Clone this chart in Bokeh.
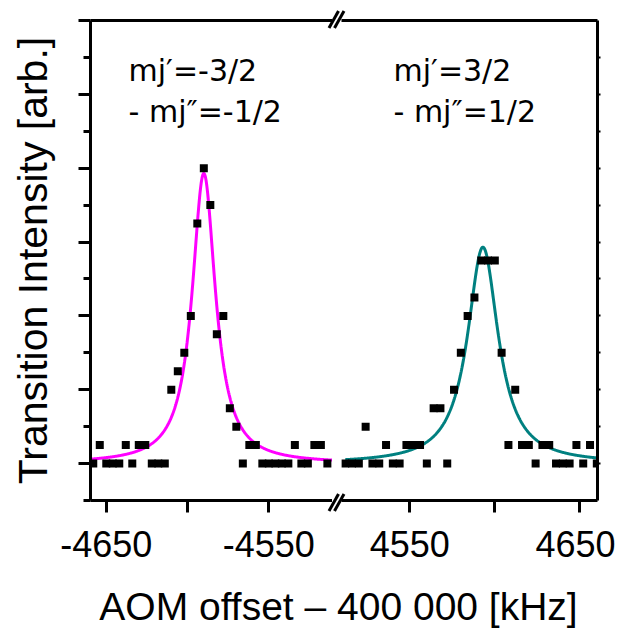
from bokeh.plotting import figure
from bokeh.layouts import row, column
from bokeh.models import LinearAxis, FixedTicker, Label, Range1d, CustomJSTickFormatter, Div
from bokeh.embed import file_html
from bokeh.resources import INLINE
import numpy as np

# ---------------- data ----------------
left_x = [-4658, -4654, -4650, -4646, -4642, -4638, -4634, -4630, -4626, -4622,
          -4618, -4614, -4610, -4606, -4602, -4598, -4594, -4590, -4586, -4582,
          -4578, -4574, -4570, -4566, -4562, -4558, -4554, -4550, -4546, -4542,
          -4538, -4534, -4530, -4526, -4522, -4518, -4514]
left_y = [0, 0.25, 0, 0, 0, 0.25, 0, 0.25, 0.25, 0,
          0, 0, 1.0, 1.25, 1.5, 2.0, 3.25, 4.0, 3.5, 1.75,
          2.0, 0.75, 0.5, 0, 0.25, 0.25, 0, 0, 0, 0,
          0, 0.25, 0, 0, 0.25, 0.25, 0]

right_x = [4512, 4516, 4520, 4524, 4528, 4532, 4536, 4540, 4544, 4548,
           4552, 4556, 4560, 4564, 4568, 4572, 4576, 4580, 4584, 4588,
           4592, 4596, 4600, 4604, 4608, 4612, 4616, 4620, 4624, 4628,
           4632, 4636, 4640, 4644, 4648, 4652, 4656, 4660]
right_y = [0, 0, 0, 0.5, 0, 0, 0.25, 0, 0, 0.25,
           0.25, 0.25, 0, 0.75, 0.75, 0, 1.0, 1.5, 2.0, 2.25,
           2.75, 2.75, 2.75, 1.5, 0.25, 1.0, 0.25, 0.25, 0, 0.25,
           0.25, 0, 0, 0, 0.25, 0, 0.25, 0]

# Lorentzian fit parameters
left_center, left_amp, left_hwhm, left_offset = -4590.0, 3.93, 8.7, 0.0
right_center, right_amp, right_hwhm, right_offset = 4593.0, 2.93, 11.0, 0.0
left_fit_span = (-4660, -4511)
right_fit_span = (4512, 4660)

left_ticks = [-4650, -4600, -4550]
left_tick_labels = ["-4650", "", "-4550"]
right_ticks = [4550, 4600, 4650]
right_tick_labels = ["4550", "", "4650"]
y_major = [0, 1, 2, 3, 4, 5, 6]
y_minor = [-0.5, 0.5, 1.5, 2.5, 3.5, 4.5, 5.5]
y_right_ticks = [0, 0.5, 1, 1.5, 2, 2.5, 3, 3.5, 4, 4.5, 5, 5.5]

left_xrange = (-4659.7, -4510.85)
right_xrange = (4509.8, 4660.4)
y_range = (-0.5, 6)

x_label = "AOM offset \u2013 400 000 [kHz]"
y_label = "Transition Intensity [arb.]"
left_note = ["mj\u2032=-3/2", "- mj\u2033=-1/2"]
right_note = ["mj\u2032=3/2", "- mj\u2033=1/2"]
left_note_x = -4636.3
right_note_x = 4540.4
note_y = [5.323, 4.768]

# ---------------- layout constants ----------------
TOP = 20
FRAME_H = 480
BOTTOM = 78
FIG_H = TOP + FRAME_H + BOTTOM
LEFT_BORDER = 90
LEFT_FW = 242
GAP_W = 9
RIGHT_FW = 256
RIGHT_BORDER = 18
LW = 3
FONT = "Liberation Sans"


def lorentz(xs, c, a, g, o):
    return o + a / (1.0 + ((xs - c) / g) ** 2)


lx = np.linspace(left_fit_span[0], left_fit_span[1], 600)
ly = lorentz(lx, left_center, left_amp, left_hwhm, left_offset)
rx = np.linspace(right_fit_span[0], right_fit_span[1], 600)
ry = lorentz(rx, right_center, right_amp, right_hwhm, right_offset)


def style_bottom(p, ticks, labels):
    ax = p.xaxis[0]
    ax.ticker = FixedTicker(ticks=ticks)
    ax.major_label_overrides = {t: l for t, l in zip(ticks, labels)}
    ax.minor_tick_line_color = None
    ax.major_tick_out = 12
    ax.major_tick_in = 0
    ax.major_tick_line_width = LW
    ax.axis_line_width = LW
    ax.major_label_text_font = FONT
    ax.major_label_text_font_size = "36px"
    ax.major_label_text_color = "black"
    ax.major_label_standoff = 18


def add_top(p):
    top = LinearAxis(ticker=FixedTicker(ticks=[]), axis_line_width=LW,
                     major_tick_out=0, major_tick_in=0, minor_tick_out=0, minor_tick_in=0,
                     major_label_text_font_size="0px", major_label_standoff=0)
    p.add_layout(top, "above")


def clean(p):
    p.grid.visible = False
    p.outline_line_color = None


# ---------------- left panel ----------------
p1 = figure(width=LEFT_BORDER + LEFT_FW, height=FIG_H,
            x_range=Range1d(*left_xrange), y_range=Range1d(*y_range),
            output_backend="svg", toolbar_location=None,
            min_border_left=LEFT_BORDER, min_border_right=0,
            min_border_top=TOP, min_border_bottom=BOTTOM)
clean(p1)
style_bottom(p1, left_ticks, left_tick_labels)
ya = p1.yaxis[0]
ya.ticker = FixedTicker(ticks=y_major, minor_ticks=y_minor)
ya.formatter = CustomJSTickFormatter(code="return ''")
ya.major_tick_out = 12
ya.major_tick_in = 0
ya.minor_tick_out = 7
ya.minor_tick_in = 0
ya.major_tick_line_width = LW
ya.minor_tick_line_width = LW
ya.axis_line_width = LW
ya.major_label_standoff = 0
ya.axis_label = y_label
ya.axis_label_text_font = FONT
ya.axis_label_text_font_size = "41px"
ya.axis_label_text_font_style = "normal"
ya.axis_label_text_color = "black"
ya.axis_label_standoff = 23
add_top(p1)

p1.line(lx, ly, line_color="#ff00ff", line_width=3)
p1.scatter(left_x, left_y, marker="square", size=8, fill_color="black", line_color=None)
for txt, yy in zip(left_note, note_y):
    p1.add_layout(Label(x=left_note_x, y=yy, text=txt, text_font="DejaVu Sans",
                        text_font_size="30px", text_baseline="alphabetic", text_color="black"))

# ---------------- axis-break marks (decoration between the panels) ----------------
def slash(x0, y0, x1, y1):
    return (f'<line x1="{x0}" y1="{y0}" x2="{x1}" y2="{y1}" stroke="black" '
            f'stroke-width="{LW}" stroke-linecap="butt"/>')


marks = ""
for yc in (19.5, 502.5):
    marks += slash(-3.0, yc + 8.5, 6.5, yc - 8.5)
    marks += slash(2.5, yc + 8.5, 12.0, yc - 8.5)
gap = Div(text=f'<svg width="{GAP_W}" height="{FIG_H}" style="overflow:visible;display:block">'
               f'{marks}</svg>',
          width=GAP_W, height=FIG_H, margin=0,
          styles={"overflow": "visible", "z-index": "5"})

# ---------------- right panel ----------------
p2 = figure(width=RIGHT_FW + RIGHT_BORDER, height=FIG_H,
            x_range=Range1d(*right_xrange), y_range=Range1d(*y_range),
            y_axis_location="right",
            output_backend="svg", toolbar_location=None,
            min_border_left=0, min_border_right=RIGHT_BORDER,
            min_border_top=TOP, min_border_bottom=BOTTOM)
clean(p2)
p2.background_fill_color = None
p2.border_fill_color = None
style_bottom(p2, right_ticks, right_tick_labels)
ra = p2.yaxis[0]
ra.ticker = FixedTicker(ticks=y_right_ticks)
ra.formatter = CustomJSTickFormatter(code="return ''")
ra.major_tick_out = 3
ra.major_tick_in = 0
ra.minor_tick_out = 0
ra.minor_tick_in = 0
ra.major_tick_line_width = 2
ra.axis_line_width = LW
ra.major_label_standoff = 0
add_top(p2)

p2.line(rx, ry, line_color="#008080", line_width=3)
p2.scatter(right_x, right_y, marker="square", size=8, fill_color="black", line_color=None)
for txt, yy in zip(right_note, note_y):
    p2.add_layout(Label(x=right_note_x, y=yy, text=txt, text_font="DejaVu Sans",
                        text_font_size="30px", text_baseline="alphabetic", text_color="black"))

# ---------------- x-axis title strip ----------------
TOTAL_W = LEFT_BORDER + LEFT_FW + GAP_W + RIGHT_FW + RIGHT_BORDER
p3 = figure(width=TOTAL_W, height=50, x_range=Range1d(0, TOTAL_W), y_range=Range1d(0, 50),
            x_axis_location=None, y_axis_location=None,
            output_backend="svg", toolbar_location=None, min_border=0)
clean(p3)
p3.add_layout(Label(x=338, y=22, text=x_label, text_font=FONT,
                    text_font_size="39px", text_align="center", text_baseline="alphabetic",
                    text_color="black"))

layout = column(row(p1, gap, p2), p3)
open("out.html", "w").write(file_html(layout, INLINE))
